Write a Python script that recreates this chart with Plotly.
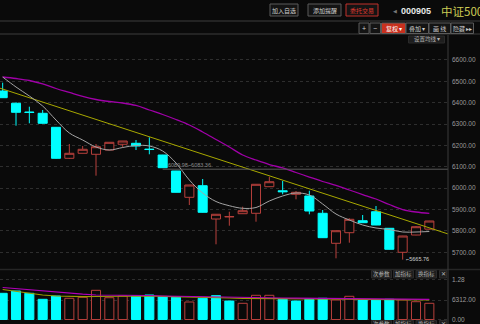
import plotly.graph_objects as go

W, H = 480, 324

# ---------------- data ----------------
idx = list(range(33))
opens = [6454.9, 6397.4, 6356.5, 6350.6, 6285.0, 6139.9, 6163.4, 6158.7, 6178.8, 6205.5,
         6210.2, 6183.0, 6155.4, 6080.5, 5957.4, 6011.7, 5855.9, 5866.0, 5880.7, 5882.6,
         6007.0, 5988.0, 5971.5, 5963.5, 5882.6, 5742.2, 5791.8, 5847.9, 5890.0, 5812.4,
         5700.0, 5780.9, 5808.3]
highs = [6493.8, 6402.0, 6381.4, 6366.0, 6286.0, 6206.9, 6197.5, 6206.9, 6215.0, 6221.0,
         6225.6, 6238.2, 6156.0, 6081.0, 6015.5, 6043.1, 5878.5, 5890.0, 5913.4, 6019.0,
         6053.8, 6033.7, 5986.9, 5988.3, 5898.0, 5801.5, 5859.2, 5874.6, 5916.7, 5813.0,
         5777.0, 5823.1, 5847.0]
lows = [6422.0, 6292.5, 6303.8, 6302.0, 6138.0, 6136.7, 6163.0, 6058.5, 6178.0, 6191.4,
        6178.8, 6158.7, 6095.0, 5980.0, 5921.4, 5886.0, 5737.5, 5824.5, 5880.0, 5843.2,
        6006.0, 5971.5, 5948.0, 5877.9, 5767.0, 5671.9, 5745.0, 5838.0, 5827.0, 5713.0,
        5665.76, 5780.0, 5807.0]
closes = [6423.6, 6355.2, 6354.5, 6303.8, 6139.9, 6163.4, 6182.1, 6194.2, 6214.8, 6220.9,
          6197.5, 6181.0, 6096.0, 5980.8, 6015.0, 5887.2, 5878.0, 5867.0, 5894.7, 6018.3,
          6030.4, 5983.7, 5980.8, 5893.3, 5768.4, 5801.1, 5854.5, 5838.6, 5827.8, 5714.1,
          5776.3, 5819.8, 5846.5]
prev_close_before = 6470.0

ma_short = [6520.4, 6473.6, 6431.5, 6384.7, 6319.2, 6258.4, 6225.6, 6192.8, 6178.8, 6190.5,
            6199.9, 6197.5, 6174.1, 6118.0, 6038.4, 5977.6, 5937.8, 5918.1, 5905.9, 5909.7,
            5940.1, 5963.5, 5977.6, 5968.2, 5926.1, 5879.3, 5851.2, 5827.8, 5813.8, 5806.7,
            5795.0, 5795.0, 5797.4]
ma_long = [6520.4, 6513.4, 6504.1, 6487.7, 6466.6, 6447.9, 6429.2, 6415.1, 6405.8, 6398.8,
           6387.1, 6366.0, 6344.9, 6321.5, 6295.8, 6263.0, 6227.9, 6192.8, 6155.4, 6132.0,
           6110.9, 6094.6, 6073.5, 6052.4, 6031.4, 6012.7, 5991.6, 5970.5, 5949.5, 5923.7,
           5900.3, 5888.6, 5882.6]
trend_x = [-0.2, 33.4]
trend_y = [6468.0, 5786.0]

ref_price = 6089.0
ref_label = "6089.98~6083.36"
low_label = "5665.76"

volume = [8480, 9225, 8480, 6540, 7607, 6862, 7186, 9452, 7057, 7607,
          7607, 7931, 7380, 7186, 5665, 6862, 7704, 5988, 5244, 7834,
          7834, 6540, 5988, 6540, 6862, 6312, 7510, 6312, 6312, 6540,
          6312, 5762, 5244]
vol_ma_a = [10358, 9970, 9614, 9290, 8902, 8578, 8190, 7931, 7931, 7931,
            7931, 7769, 7607, 7510, 7445, 7348, 7283, 7121, 7057, 7024,
            6960, 6960, 6895, 6862, 6830, 6798, 6798, 6765, 6733, 6700,
            6636, 6571, 6539]
vol_ma_b = [9711, 9064, 8416, 7931, 7607, 7445, 7380, 7445, 7542, 7607,
            7607, 7607, 7510, 7445, 7348, 7283, 7121, 6960, 6862, 6798,
            6798, 6765, 6700, 6636, 6636, 6571, 6571, 6539, 6474, 6442,
            6409, 6377, 6312]

price_ticks = [5700, 5800, 5900, 6000, 6100, 6200, 6300, 6400, 6500, 6600]
price_tick_text = ["%.2f" % v for v in price_ticks]
vol_ticks = [0, 6312, 12800]
vol_tick_text = ["0.00", "6312.00", "1.28"]

# ---------------- styles ----------------
BG = "#0a0a0a"
CYAN = "#00ffff"
RED = "#b8403c"
GRAY_TXT = "#9a9a9a"
CJK = "Noto Sans CJK SC"
NUM = "Liberation Sans"

prevs = [prev_close_before] + closes[:-1]
vol_up = [c >= p for c, p in zip(closes, prevs)]
vol_fill = [BG if u else CYAN for u in vol_up]
vol_line = [RED if u else CYAN for u in vol_up]

fig = go.Figure()

fig.add_trace(go.Candlestick(
    x=idx, open=opens, high=highs, low=lows, close=closes,
    increasing=dict(line=dict(color=RED, width=1), fillcolor=BG),
    decreasing=dict(line=dict(color=CYAN, width=1), fillcolor=CYAN),
    xaxis="x", yaxis="y", showlegend=False, hoverinfo="skip"))

fig.add_trace(go.Scatter(x=trend_x, y=trend_y, mode="lines",
                         line=dict(color="#a8a800", width=1), xaxis="x", yaxis="y",
                         showlegend=False, hoverinfo="skip"))
fig.add_trace(go.Scatter(x=idx, y=ma_long, mode="lines",
                         line=dict(color="#a000a8", width=1.3, shape="spline"), xaxis="x", yaxis="y",
                         showlegend=False, hoverinfo="skip"))
fig.add_trace(go.Scatter(x=idx, y=ma_short, mode="lines",
                         line=dict(color="#a4a4a4", width=1, shape="spline"), xaxis="x", yaxis="y",
                         showlegend=False, hoverinfo="skip"))
fig.add_trace(go.Scatter(x=[idx[12], trend_x[1]], y=[ref_price, ref_price], mode="lines",
                         line=dict(color="#5a5a5a", width=1), xaxis="x", yaxis="y",
                         showlegend=False, hoverinfo="skip"))

fig.add_trace(go.Bar(x=idx, y=volume, width=0.68,
                     marker=dict(color=vol_fill, line=dict(color=vol_line, width=1)),
                     xaxis="x2", yaxis="y2", showlegend=False, hoverinfo="skip"))
fig.add_trace(go.Scatter(x=idx, y=vol_ma_b, mode="lines",
                         line=dict(color="#9a9a00", width=1.2), xaxis="x2", yaxis="y2",
                         showlegend=False, hoverinfo="skip"))
fig.add_trace(go.Scatter(x=idx, y=vol_ma_a, mode="lines",
                         line=dict(color="#b000b8", width=1.2), xaxis="x2", yaxis="y2",
                         showlegend=False, hoverinfo="skip"))


def px_x(px):
    return px / W


def px_y(py):
    return 1 - py / H


XD = [0, px_x(448)]
price_dom = [px_y(269), px_y(37)]
vol_dom = [0, px_y(270)]

fig.update_layout(
    width=W, height=H, margin=dict(l=0, r=0, t=0, b=0),
    paper_bgcolor=BG, plot_bgcolor=BG, boxgap=0.32, boxgroupgap=0,
    xaxis=dict(domain=XD, range=[-0.2, 33.4], showticklabels=False, showgrid=False,
               zeroline=False, rangeslider=dict(visible=False), fixedrange=True),
    xaxis2=dict(domain=XD, range=[-0.2, 33.4], showticklabels=False, showgrid=False,
                zeroline=False, anchor="y2", matches="x"),
    yaxis=dict(domain=price_dom, range=[5621.9, 6707.6], side="right",
               tickvals=price_ticks, ticktext=price_tick_text, ticks="",
               tickfont=dict(family=NUM, size=6.5, color=GRAY_TXT),
               showgrid=True, gridcolor="#2e2e2e", griddash="dot", gridwidth=1,
               zeroline=False, showline=False, ticklabelstandoff=3),
    yaxis2=dict(domain=vol_dom, range=[-1457, 16023], side="right", anchor="x2",
                tickvals=vol_ticks, ticktext=vol_tick_text, ticks="",
                tickfont=dict(family=NUM, size=6.5, color=GRAY_TXT),
                showgrid=True, gridcolor="#2e2e2e", griddash="dot", gridwidth=1,
                zeroline=False, showline=False, ticklabelstandoff=3),
)

shapes = []
# header separator lines
for py in (21, 34):
    shapes.append(dict(type="line", xref="paper", yref="paper", x0=0, x1=1,
                       y0=px_y(py), y1=px_y(py), line=dict(color="#2c2c2c", width=1.5)))
# panel separator
shapes.append(dict(type="line", xref="paper", yref="paper", x0=0, x1=1,
                   y0=px_y(269.5), y1=px_y(269.5), line=dict(color="#262626", width=1.5)))
# right axis vertical line
shapes.append(dict(type="line", xref="paper", yref="paper", x0=px_x(448), x1=px_x(448),
                   y0=0, y1=px_y(35), line=dict(color="#3a3a3a", width=1)))

annotations = []


def btn(text, x0, x1, y0, y1, color="#cfcfcf", border="#5a5a5a", bg="#141414", size=6, family=CJK):
    shapes.append(dict(type="rect", xref="paper", yref="paper",
                       x0=px_x(x0), x1=px_x(x1), y0=px_y(y1), y1=px_y(y0),
                       line=dict(color=border, width=1), fillcolor=bg, layer="above"))
    annotations.append(dict(text=text, xref="paper", yref="paper",
                            x=px_x((x0 + x1) / 2), y=px_y((y0 + y1) / 2),
                            xanchor="center", yanchor="middle", showarrow=False,
                            font=dict(family=family, size=size, color=color)))


def label(text, x, y, color, size, family=CJK, xanchor="left", bold=False):
    annotations.append(dict(text=("<b>%s</b>" % text) if bold else text, xref="paper", yref="paper",
                            x=px_x(x), y=px_y(y), xanchor=xanchor, yanchor="middle",
                            showarrow=False, font=dict(family=family, size=size, color=color)))


# top buttons
btn("加入自选", 270, 298, 4, 16)
btn("添加提醒", 308, 341, 4, 16)
btn("委托交易", 346, 378, 4, 16, color="#e03a30", border="#c0302a")
label("◀", 391, 10.5, "#777777", 5, family=NUM)
label("000905", 399, 10.5, "#e8e8e8", 9, family=NUM, bold=True)
label("中证500", 439, 10.5, "#cdcd55", 11.5)

# toolbar
btn("+", 359, 369, 23, 33.5, size=7, family=NUM)
btn("−", 370, 380.5, 23, 33.5, size=7, family=NUM)
btn("复权 ▾", 381.5, 405.5, 23, 33.5, color="#ffffff", border="#5a5a5a", bg="#c8301e")
btn("叠加 ▾", 406, 428.5, 23, 33.5)
btn("画 线", 429, 450.5, 23, 33.5)
btn("隐藏 ▸▸", 451, 473.5, 23, 33.5)
btn("设置均线 ▾", 408.5, 444.5, 36, 43, color="#b5b5b5", border="#2a2a2a", bg="#1e1e1e", size=5.5)

# volume panel buttons (top and bottom, bottom cut by frame)
for yy in (270.5, 320.5):
    btn("次参数", 371.5, 391.5, yy, yy + 7.5, color="#b5b5b5", border="#2a2a2a", bg="#1e1e1e", size=5.5)
    btn("加指标", 393.5, 413.5, yy, yy + 7.5, color="#b5b5b5", border="#2a2a2a", bg="#1e1e1e", size=5.5)
    btn("换指标", 416, 436.5, yy, yy + 7.5, color="#b5b5b5", border="#2a2a2a", bg="#1e1e1e", size=5.5)
    btn("✕", 439.5, 446.5, yy, yy + 7.5, color="#b5b5b5", border="#2a2a2a", bg="#1e1e1e", size=5.5, family=NUM)

# data-tied labels
annotations.append(dict(text=ref_label, x=idx[12], y=ref_price, xref="x", yref="y",
                        xanchor="left", yanchor="bottom", showarrow=False, xshift=3, yshift=-1,
                        font=dict(family=NUM, size=5.5, color="#8a8a8a")))
annotations.append(dict(text="⌐" + low_label, x=idx[30], y=min(lows), xref="x", yref="y",
                        xanchor="left", yanchor="middle", showarrow=False, xshift=1, yshift=1,
                        font=dict(family=NUM, size=5.5, color="#d0d0d0")))

fig.update_layout(shapes=shapes, annotations=annotations)

fig.write_html("out.html")
